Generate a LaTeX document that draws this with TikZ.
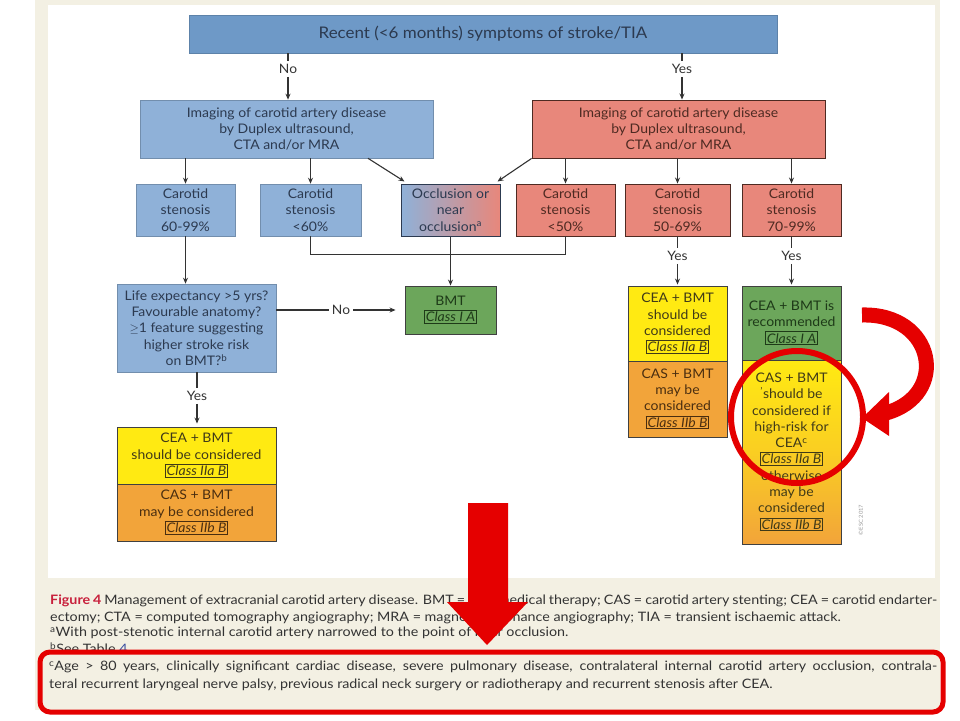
\documentclass[tikz,border=0pt]{standalone}
\usepackage{fontspec}
\usepackage{graphicx}
\setmainfont{Lato}[FakeStretch=1.06]
\newfontfamily\capfont{Lato}[FakeStretch=1.1]
\usetikzlibrary{arrows.meta,calc}
\definecolor{beige}{HTML}{F3F0E3}
\definecolor{topblue}{HTML}{6E99C7}
\definecolor{lblue}{HTML}{8FB1D8}
\definecolor{salmon}{HTML}{E8877B}
\definecolor{ylw}{HTML}{FFEA12}
\definecolor{org}{HTML}{F2A43A}
\definecolor{grn}{HTML}{6CA65B}
\definecolor{bluetxt}{HTML}{2C3A50}
\definecolor{redtxt}{HTML}{4E2A22}
\definecolor{ytxt}{HTML}{403A18}
\definecolor{otxt}{HTML}{4A2E10}
\definecolor{gtxt}{HTML}{1E3A18}
\definecolor{linec}{HTML}{333333}
\definecolor{hired}{HTML}{E50000}
\definecolor{figred}{HTML}{C8203C}
\definecolor{linkblue}{HTML}{3A4FA0}
\newcommand{\clsbox}[1]{{\setlength{\fboxsep}{1pt}\setlength{\fboxrule}{0.9pt}\fbox{\itshape #1}}}
\begin{document}
\begin{tikzpicture}[x=1pt,y=-1pt,
  box/.style={rectangle, inner sep=0pt, align=center, font=\fontsize{13.2}{16.3}\selectfont},
  tbox/.style={box, fill=topblue, draw=topblue!85!black, line width=0.6pt, text=bluetxt, font=\fontsize{16}{18}\selectfont},
  bbox/.style={box, fill=lblue, draw=lblue!80!black, line width=0.6pt, text=bluetxt},
  rbox/.style={box, fill=salmon, draw=redtxt, line width=0.9pt, text=redtxt},
  ybox/.style={box, fill=ylw, draw=black!75, line width=0.9pt, text=ytxt},
  obox/.style={box, fill=org, draw=black!75, line width=0.9pt, text=otxt},
  gbox/.style={box, fill=grn, draw=black!75, line width=0.9pt, text=gtxt},
  lbl/.style={inner sep=3pt, text=linec, font=\fontsize{13}{14}\selectfont},
  ln/.style={draw=linec, line width=1.1pt},
  arr/.style={ln, -{Stealth[length=6pt,width=5pt]}},
  captxt/.style={anchor=west, inner sep=0pt, text=black!80, font=\capfont\fontsize{13}{15}\selectfont}
]
\useasboundingbox (0,0) rectangle (960,720);
% background
\fill[white] (0,0) rectangle (960,720);
\fill[beige] (35,0) rectangle (940,710);
\fill[white] (48,5) rectangle (935,578);

% top
\node[tbox, minimum width=588pt, minimum height=38pt] (top) at (483,34) {Recent (<6 months) symptoms of stroke/TIA};
\node[lbl] (noL) at (288,69) {No};
\node[lbl] (yesR) at (682,69) {Yes};

% imaging boxes
\node[bbox, minimum width=293pt, minimum height=58pt] (imgL) at (286.5,129) {Imaging of carotid artery disease\\by Duplex ultrasound,\\CTA and/or MRA};
\node[rbox, minimum width=293pt, minimum height=58pt] (imgR) at (678.5,129) {Imaging of carotid artery disease\\by Duplex ultrasound,\\CTA and/or MRA};

% stenosis row
\node[bbox, minimum width=99pt, minimum height=52pt] (s1) at (185.5,210) {Carotid\\stenosis\\60-99\%};
\node[bbox, minimum width=101pt, minimum height=52pt] (s2) at (310.5,210) {Carotid\\stenosis\\<60\%};
\node[box, minimum width=99pt, minimum height=52pt, left color=lblue, right color=salmon, draw=bluetxt, line width=1pt, text=bluetxt] (s3) at (450.5,210) {Occlusion or\\near\\occlusion\textsuperscript{a}};
\node[rbox, minimum width=99pt, minimum height=52pt] (s4) at (565.5,210) {Carotid\\stenosis\\<50\%};
\node[rbox, minimum width=105pt, minimum height=52pt] (s5) at (677.5,210) {Carotid\\stenosis\\50-69\%};
\node[rbox, minimum width=99pt, minimum height=52pt] (s6) at (791.5,210) {Carotid\\stenosis\\70-99\%};

% lower left
\node[bbox, minimum width=159pt, minimum height=88pt] (life) at (196.5,328) {Life expectancy >5 yrs?\\Favourable anatomy?\\$\geq$1 feature suggesting\\higher stroke risk\\on BMT?\textsuperscript{b}};
\node[gbox, minimum width=91pt, minimum height=48pt] (bmt) at (450.5,310) {BMT\\\clsbox{Class I A}};
\node[lbl] (noM) at (341,310) {No};
\node[lbl] (yesL) at (197,396) {Yes};
\node[ybox, minimum width=159pt, minimum height=57pt] (ceaL) at (196.5,455.5) {CEA + BMT\\should be considered\\\clsbox{Class IIa B}};
\node[obox, minimum width=159pt, minimum height=57pt] (casL) at (196.5,512.5) {CAS + BMT\\may be considered\\\clsbox{Class IIb B}};

% lower right
\node[lbl] (yes5) at (677.5,256) {Yes};
\node[lbl] (yes6) at (791.5,256) {Yes};
\node[ybox, minimum width=99pt, minimum height=75pt] (cea5) at (677.5,323.5) {CEA + BMT\\should be\\considered\\\clsbox{Class IIa B}};
\node[obox, minimum width=99pt, minimum height=76pt] (cas5) at (677.5,399) {CAS + BMT\\may be\\considered\\\clsbox{Class IIb B}};
\node[gbox, minimum width=99pt, minimum height=74pt] (cea6) at (791.5,323) {CEA + BMT is\\recommended\\\clsbox{Class I A}};
\node[box, minimum width=99pt, minimum height=184pt, top color=ylw, bottom color=org, middle color=ylw!60!org, draw=black!75, line width=0.9pt, text=ytxt] (cas6) at (791.5,452) {CAS + BMT\\\textsuperscript{'}should be\\considered if\\high-risk for\\CEA\textsuperscript{c}\\\clsbox{Class IIa B}\\otherwise\\may be\\considered\\\clsbox{Class IIb B}};
\node[rotate=90, inner sep=0pt, text=black!40, font=\fontsize{5.5}{6}\selectfont] (esc) at (861,520) {©ESC 2017};

% connectors
\draw[ln] (top.south -| noL) -- (noL.north);
\draw[arr] (noL.south) -- (noL.south |- imgL.north);
\draw[ln] (top.south -| yesR) -- (yesR.north);
\draw[arr] (yesR.south) -- (yesR.south |- imgR.north);

\draw[arr] (imgL.south -| s1) -- (s1.north);
\draw[arr] (imgL.south -| s2) -- (s2.north);
\draw[arr] ([xshift=81.5pt]imgL.south) -- ([xshift=4pt,yshift=2pt]s3.north west);
\draw[arr] (imgR.south west) -- ([xshift=-3pt,yshift=2pt]s3.north east);
\draw[arr] (imgR.south -| s4) -- (s4.north);
\draw[arr] (imgR.south -| s5) -- (s5.north);
\draw[arr] (imgR.south -| s6) -- (s6.north);

\draw[ln] (s2.south) -- ++(0,18) -| (s4.south);
\draw[arr] (s3.south) -- (bmt.north);
\draw[arr] (s1.south) -- (s1.south |- life.north);
\draw[ln] (life.east |- bmt.west) -- (noM.west);
\draw[arr, shorten >=9pt] (noM.east) -- (bmt.west);
\draw[ln] (life.south -| yesL) -- (yesL.north);
\draw[arr, shorten >=3pt] (yesL.south) -- (yesL.south |- ceaL.north);
\draw[ln] (s5.south) -- (yes5.north);
\draw[arr, shorten >=1pt] (yes5.south) -- (cea5.north);
\draw[ln] (s6.south) -- (yes6.north);
\draw[arr, shorten >=1pt] (yes6.south) -- (cea6.north);

% caption
\node[captxt] (c1) at (50,601) {\makebox[887pt][s]{\textcolor{figred}{\bfseries Figure 4} Management of extracranial carotid artery disease. BMT = best medical therapy; CAS = carotid artery stenting; CEA = carotid endarter-}};
\node[captxt] (c2) at (50,618) {ectomy; CTA = computed tomography angiography; MRA = magnetic resonance angiography; TIA = transient ischaemic attack.};
\node[captxt] (c3) at (50,633) {\textsuperscript{a}With post-stenotic internal carotid artery narrowed to the point of near occlusion.};
\node[captxt] (c4) at (50,648) {\textsuperscript{b}See Table \textcolor{linkblue}{4}};
\node[captxt] (c5) at (49,667) {\makebox[888pt][s]{\textsuperscript{c}Age > 80 years, clinically significant cardiac disease, severe pulmonary disease, contralateral internal carotid artery occlusion, contrala-}};
\node[captxt] (c6) at (49,685) {teral recurrent laryngeal nerve palsy, previous radical neck surgery or radiotherapy and recurrent stenosis after CEA.};

% red overlays
\draw[hired, line width=5pt, rounded corners=10pt] (40,652) rectangle (943,712);
\fill[hired] (468,503) -- (508,503) -- (508,602) -- (528,602) -- (487,645) -- (447,602) -- (468,602) -- cycle;
\draw[hired, line width=6pt] (797,417) circle [radius=66];
\draw[hired, line width=15pt] (862,315) .. controls (935,313) and (950,395) .. (886,413);
\fill[hired] (889,392) -- (889,436) -- (862,418) -- cycle;
\end{tikzpicture}
\end{document}
